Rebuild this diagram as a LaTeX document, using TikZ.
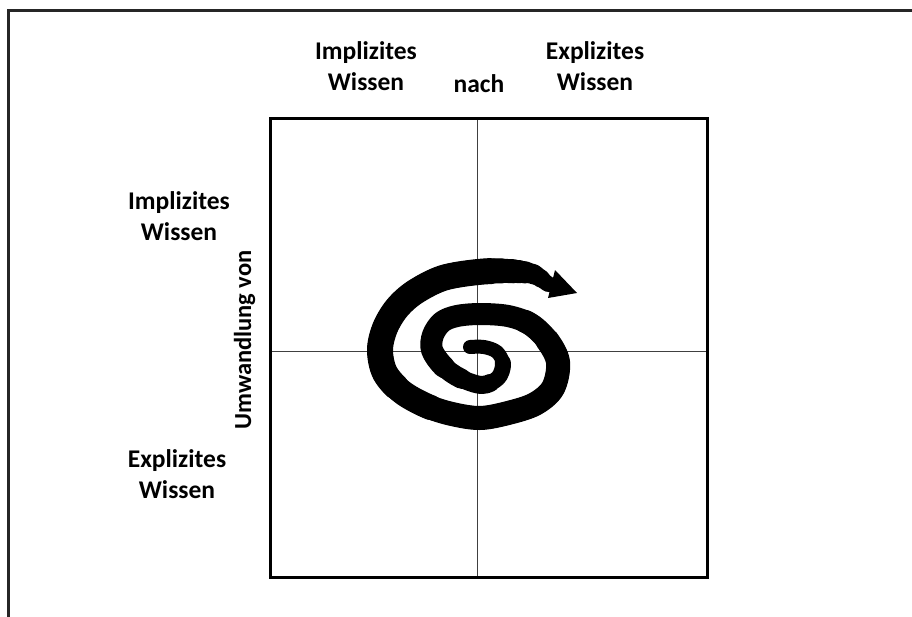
\documentclass[tikz,border=0pt]{standalone}
\usepackage{fontspec}
\setmainfont{Carlito}
\begin{document}
\begin{tikzpicture}[x=1pt,y=-1pt,
  lbl/.style={font=\fontsize{25.5}{31}\selectfont\bfseries, inner sep=0pt, align=center, anchor=base},
  thin/.style={line width=1pt, draw=black!75},
  spiralpath/.style={line cap=round, line join=round}]
\useasboundingbox (0,0) rectangle (912,616);
% outer frame (only left and top edges visible)
\coordinate (fbl) at (8,620);
\coordinate (ftl) at (8,10);
\coordinate (ftr) at (916,10);
\draw[line width=3pt, draw=black!85] (fbl) -- (ftl) -- (ftr);
% matrix box
\coordinate (bnw) at (270,118);
\coordinate (bse) at (707,577);
\coordinate (vt) at (477.5,118);
\coordinate (vb) at (477.5,577);
\coordinate (hl) at (270,351);
\coordinate (hr) at (707,351);
\draw[thin] (vt) -- (vb);
\draw[thin] (hl) -- (hr);
\draw[line width=3pt] (bnw) rectangle (bse);
% labels (anchor = baseline of the last line)
\node[lbl] (tImp) at (366,90) {Implizites\\Wissen};
\node[lbl] (tnach) at (479,92) {nach};
\node[lbl] (tExp) at (595,90) {Explizites\\Wissen};
\node[lbl] (lImp) at (179,240) {Implizites\\Wissen};
\node[lbl] (lExp) at (177,498) {Explizites\\Wissen};
\node[lbl, font=\fontsize{24.5}{30}\selectfont\bfseries, rotate=90] (lUmw) at (251,340) {Umwandlung von};
% spiral: one centre line, drawn in nested layers of growing width
\def\spiralpts{(470,347) (484,347) (497,352) (503,364) (498,378) (482,385) (460,378) (443,366) (432,350) (433,335) (442,322) (457,316) (480,314) (508,316) (530,324) (547,340) (558,362) (553,388) (535,404) (508,413) (480,418) (452,414) (427,406) (402,392) (385,373) (380,350) (385,328) (397,308) (415,292) (443,278) (478,272) (508,271) (533,274) (548,284) (553,286)}
\draw[spiralpath, line width=10pt] plot[smooth, tension=0.55] coordinates {\spiralpts};
\foreach \w/\a/\b in {14/0/764, 16/40/760, 18/66/752, 20/96/744, 22/117/735, 23/254/729, 24/284/723, 25/467/711, 26/508/700}{
  \pgfmathsetmacro\segL{\b-\a}
  \pgfmathsetmacro\segP{\segL+3000-\a}
  \draw[spiralpath, line width=\w pt, dash pattern=on \segL pt off 3000pt, dash phase=\segP pt] plot[smooth, tension=0.55] coordinates {\spiralpts};
}
\coordinate (ah1) at (555,270);
\coordinate (ah2) at (577,293);
\coordinate (ah3) at (548,298);
\fill (ah1) -- (ah2) -- (ah3) -- cycle;
\end{tikzpicture}
\end{document}
